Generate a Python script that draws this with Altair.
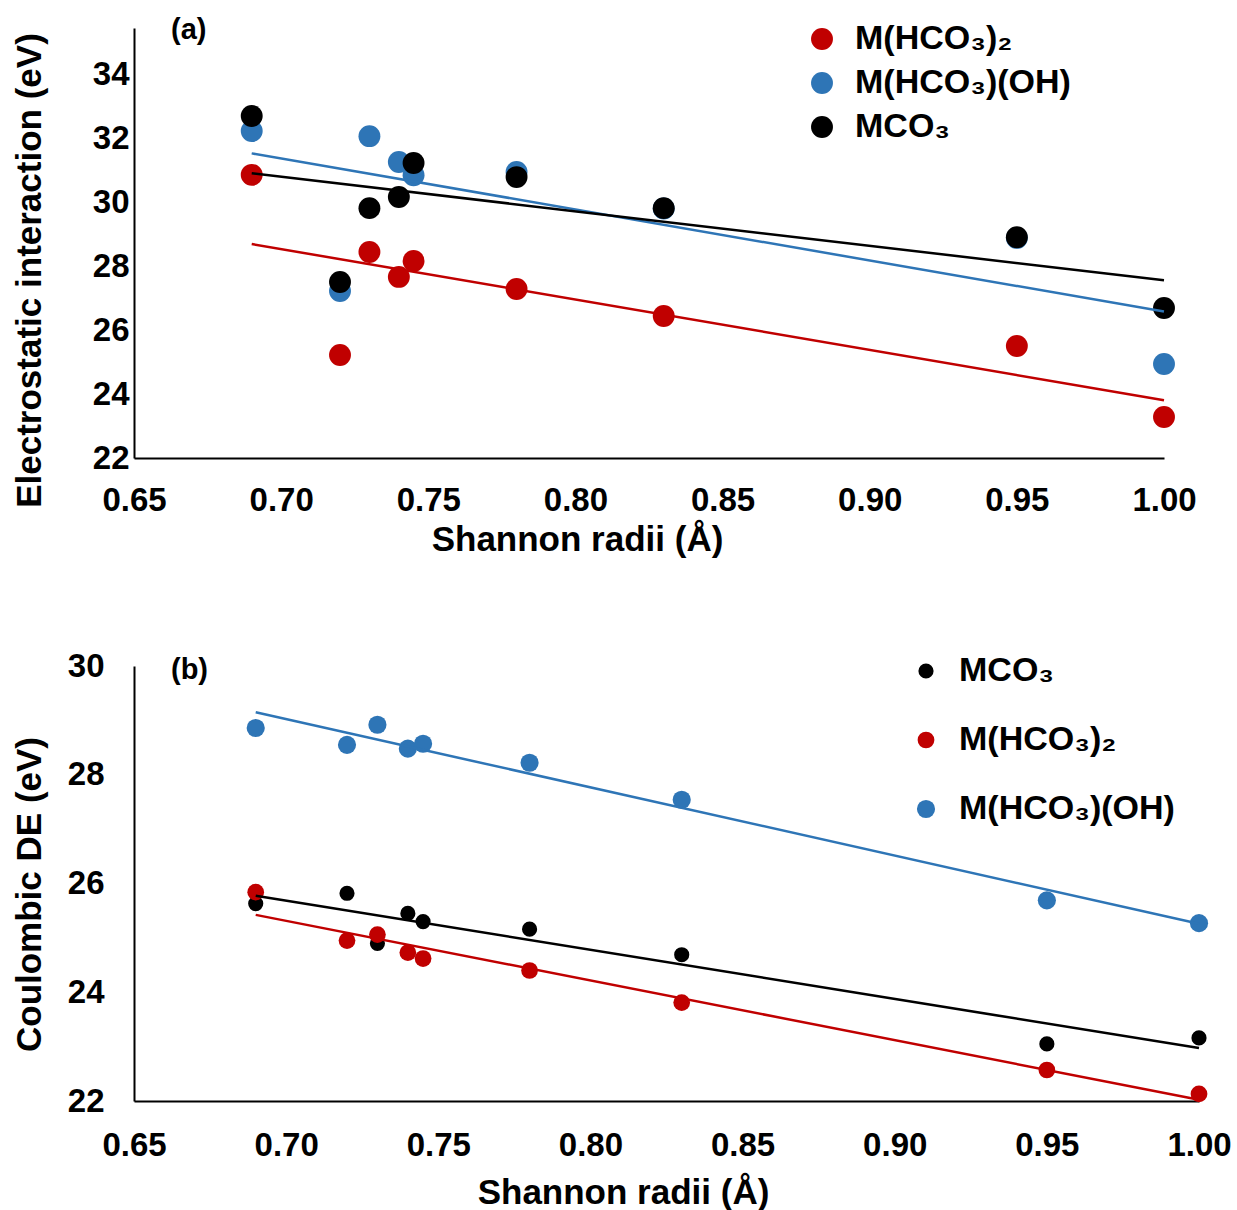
import altair as alt
import pandas as pd

# Shannon ionic radii of the metal cations (Å)
radii = [0.69, 0.72, 0.73, 0.74, 0.745, 0.78, 0.83, 0.95, 1.00]

# (a) electrostatic interaction (eV)
elec_hco3_2 = [30.85, 25.22, 28.44, 27.66, 28.16, 27.28, 26.44, 25.50, 23.28]
elec_hco3_oh = [32.22, 27.22, 32.06, 31.25, 30.84, 30.94, 29.80, 28.88, 24.94]
elec_co3 = [32.69, 27.50, 29.81, 30.16, 31.22, 30.78, 29.81, 28.90, 26.69]

# (b) Coulombic DE (eV)
coul_co3 = [25.63, 25.82, 24.90, 25.45, 25.30, 25.16, 24.69, 23.05, 23.16]
coul_hco3_2 = [25.84, 24.95, 25.06, 24.73, 24.62, 24.40, 23.81, 22.57, 22.13]
coul_hco3_oh = [28.86, 28.55, 28.92, 28.48, 28.57, 28.22, 27.54, 25.69, 25.27]

S_HCO3_2 = "M(HCO₃)₂"
S_HCO3_OH = "M(HCO₃)(OH)"
S_CO3 = "MCO₃"

palette = {S_HCO3_2: "#C00000", S_HCO3_OH: "#2E75B6", S_CO3: "#000000"}
x_ticks = [0.65, 0.70, 0.75, 0.80, 0.85, 0.90, 0.95, 1.00]
FONT = "Liberation Sans"


def long_table(series):
    """series: list of (name, values) in drawing order."""
    rows = []
    for k, (name, vals) in enumerate(series):
        for r, v in zip(radii, vals):
            rows.append({"series": name, "radius": r, "value": v, "draw": k})
    return pd.DataFrame(rows)


def panel(df, legend_order, sizes, ydom, yvals, ytitle, width, height,
          ylab_pad, ytitle_pad, ytitle_y, xlab_pad, xtitle_pad, xtitle_x,
          leg_x, leg_y, leg_row_pad, leg_symbol, tag, tag_x, tag_y):
    cscale = alt.Scale(domain=legend_order, range=[palette[s] for s in legend_order])
    x = alt.X("radius:Q",
              scale=alt.Scale(domain=[0.65, 1.0], nice=False, zero=False),
              axis=alt.Axis(values=x_ticks, format=".2f", title="Shannon radii (Å)",
                            labelPadding=xlab_pad, titlePadding=xtitle_pad,
                            titleX=xtitle_x))
    y = alt.Y("value:Q",
              scale=alt.Scale(domain=ydom, nice=False, zero=False),
              axis=alt.Axis(values=yvals, format="d", title=ytitle,
                            labelPadding=ylab_pad, titlePadding=ytitle_pad,
                            titleY=ytitle_y))
    pts = alt.Chart(df).mark_circle(opacity=1).encode(
        x=x, y=y,
        color=alt.Color("series:N", scale=cscale,
                        legend=alt.Legend(title=None, orient="none",
                                          legendX=leg_x, legendY=leg_y,
                                          symbolType="circle", symbolSize=leg_symbol,
                                          symbolStrokeWidth=0, symbolOpacity=1,
                                          labelFont=FONT, labelFontWeight="bold",
                                          labelFontSize=34, labelColor="black",
                                          labelOffset=16, rowPadding=leg_row_pad,
                                          padding=0, labelLimit=400)),
        size=alt.Size("series:N", scale=alt.Scale(domain=legend_order,
                                                  range=[sizes[s] for s in legend_order]),
                      legend=None),
        order=alt.Order("draw:Q"),
    )
    fit = alt.Chart(df).transform_regression(
        "radius", "value", groupby=["series"]
    ).mark_line(strokeWidth=2.5).encode(
        x="radius:Q", y="value:Q",
        color=alt.Color("series:N", scale=cscale, legend=None),
    )
    label = alt.Chart(pd.DataFrame({"t": [tag]})).mark_text(
        font=FONT, fontWeight="bold", fontSize=29, align="left", baseline="middle",
        color="black",
    ).encode(text="t:N", x=alt.value(tag_x), y=alt.value(tag_y))
    return alt.layer(pts, fit, label).properties(width=width, height=height)


df_a = long_table([(S_HCO3_2, elec_hco3_2), (S_HCO3_OH, elec_hco3_oh), (S_CO3, elec_co3)])
df_b = long_table([(S_CO3, coul_co3), (S_HCO3_2, coul_hco3_2), (S_HCO3_OH, coul_hco3_oh)])

top = panel(df_a, [S_HCO3_2, S_HCO3_OH, S_CO3],
            {S_HCO3_2: 480, S_HCO3_OH: 480, S_CO3: 400},
            [22, 35.44], [22, 24, 26, 28, 30, 32, 34], "Electrostatic interaction (eV)",
            1030, 430, 5, 45, 242, 26, 5, 443,
            671, -6, 10, 330, "(a)", 37, 2)

bottom = panel(df_b, [S_CO3, S_HCO3_2, S_HCO3_OH],
               {S_CO3: 230, S_HCO3_2: 330, S_HCO3_OH: 330},
               [22, 30], [22, 24, 26, 28, 30], "Coulombic DE (eV)",
               1065, 435, 30, 20, 228, 28, 13, 489,
               775, -12, 35, 260, "(b)", 37, 4)

chart = alt.vconcat(top, bottom, spacing=93).resolve_scale(
    color="independent", size="independent"
).resolve_legend(color="independent").configure(
    padding={"left": 12, "top": 16, "right": 5, "bottom": 5},
).configure_view(stroke=None).configure_axis(
    grid=False, ticks=False, domainColor="black", domainWidth=2,
    labelFont=FONT, labelFontWeight="bold", labelFontSize=33, labelColor="black",
    titleFont=FONT, titleFontWeight="bold", titleFontSize=35, titleColor="black",
    labelFlush=False, labelOverlap=False,
)

chart.save("out.html", embed_options={"renderer": "svg", "actions": False})
